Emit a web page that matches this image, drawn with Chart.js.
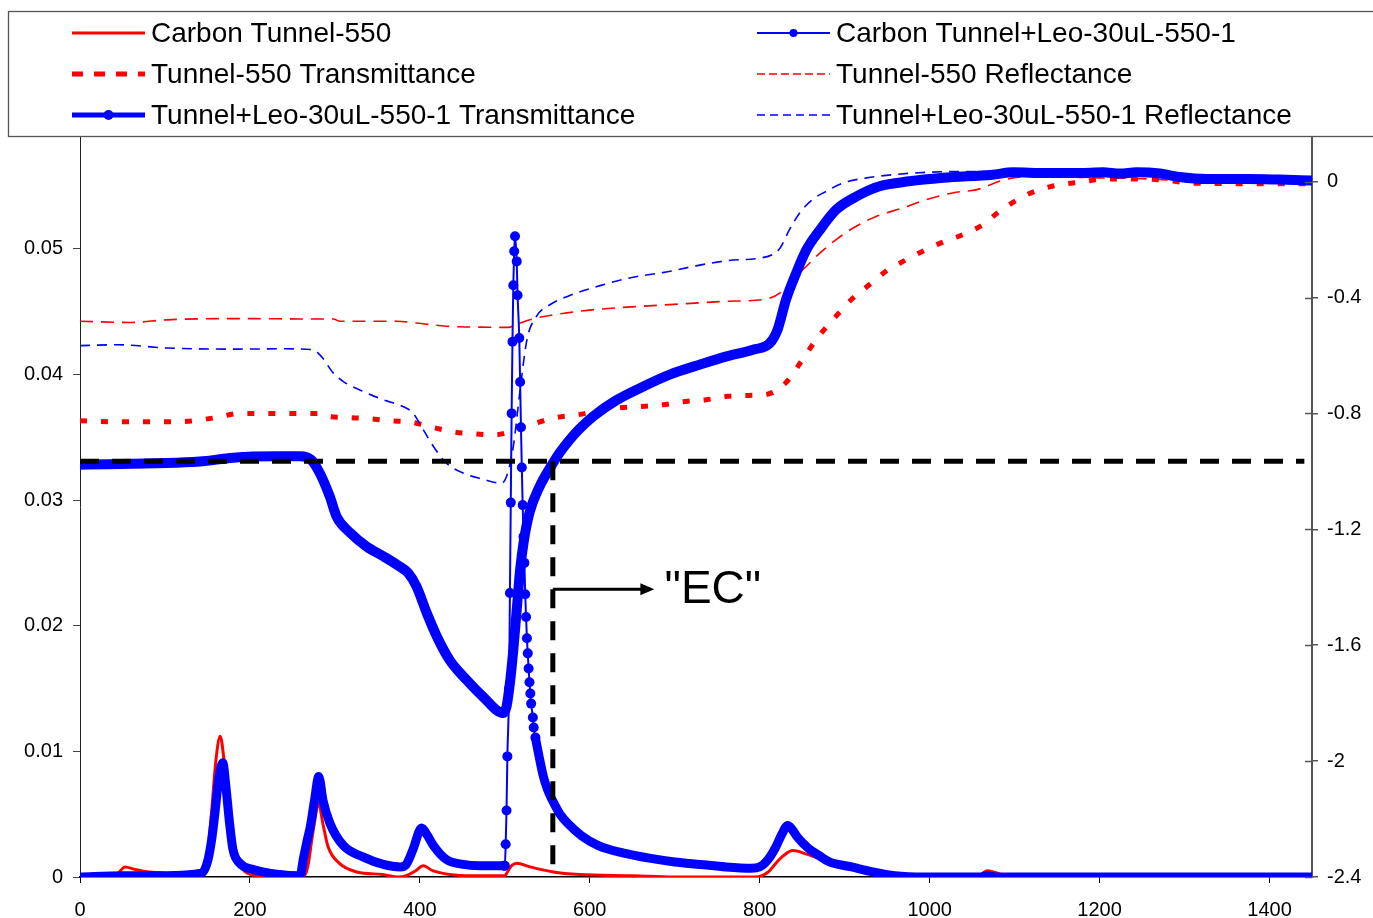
<!DOCTYPE html>
<html>
<head>
<meta charset="utf-8">
<script src="https://cdn.jsdelivr.net/npm/chart.js@4.4.1/dist/chart.umd.min.js"></script>
<style>
  html, body { margin: 0; padding: 0; background: #fff; }
  #wrap { width: 1373px; height: 918px; }
</style>
</head>
<body>
<div id="wrap"><canvas id="chart" width="1373" height="918"></canvas></div>
<script>
// axis ticks
const xTicks = [0, 200, 400, 600, 800, 1000, 1200, 1400];
const leftTicks = [0, 0.01, 0.02, 0.03, 0.04, 0.05];
const rightTicks = [-2.4, -2, -1.6, -1.2, -0.8, -0.4, 0];

const seriesNames = [
  'Carbon Tunnel-550',
  'Carbon Tunnel+Leo-30uL-550-1',
  'Tunnel-550 Transmittance',
  'Tunnel-550 Reflectance',
  'Tunnel+Leo-30uL-550-1 Transmittance',
  'Tunnel+Leo-30uL-550-1 Reflectance'
];

// Carbon Tunnel-550 (left axis)
const carbonX = [0, 40, 53, 65, 80, 100, 115, 130, 143, 150, 155, 160, 165, 170, 175, 180, 185, 195, 210, 230, 262, 268, 274, 281, 286, 292, 305, 326, 356, 375, 384, 395, 404, 415, 435, 460, 500, 503, 508, 514, 530, 557, 588, 650, 700, 795, 810, 819, 828, 839, 856, 882, 908, 933, 974, 1000, 1055, 1068, 1090, 1150, 1450];
const carbonY = [0, 0, 0.0008, 0.0006, 0.0004, 0.0003, 0.0001, 0, 0.0003, 0.0018, 0.0053, 0.0093, 0.0112, 0.0090, 0.0055, 0.0027, 0.0013, 0.0004, 0.0001, 0, 0, 0.0008, 0.0035, 0.0058, 0.0042, 0.0024, 0.0011, 0.0004, 0.0002, 0, 0.0001, 0.0005, 0.0009, 0.0005, 0.0002, 0.0001, 0.0001, 0.0004, 0.0009, 0.0011, 0.0008, 0.0004, 0.0002, 0.0001, 0, 0, 0.0004, 0.0011, 0.0017, 0.0021, 0.0018, 0.0012, 0.0008, 0.0005, 0.0001, 0, 0, 0.0005, 0.0001, 0, 0];

// Carbon Tunnel+Leo-30uL-550-1 (left axis)
const leoCarbonX = [0, 50, 100, 143, 150, 155, 159, 163, 168, 172, 176, 180, 188, 204, 235, 259, 263, 267, 271, 276, 281, 286, 294, 310, 333, 357, 377, 384, 392, 402, 409, 416, 431, 451, 470, 490, 499,
  500, 501, 502, 503, 505, 506, 507, 508, 509, 510, 511, 512, 514, 515, 517, 518, 519, 520, 521, 522, 523, 524, 525, 526, 527, 528, 529, 530, 531, 533, 534, 536,
  540, 545, 550, 556, 565, 575, 590, 610, 640, 670, 700, 730, 760, 790, 800, 806, 813, 819, 826, 833, 838, 844, 857, 870, 882, 908, 933, 959, 994, 1060, 1068, 1080, 1450];
const leoCarbonY = [0, 0.0001, 0.0001, 0.0003, 0.0012, 0.0030, 0.0052, 0.0077, 0.0091, 0.0070, 0.0043, 0.0022, 0.0011, 0.0006, 0.0002, 0.0001, 0.0015, 0.0028, 0.0040, 0.0061, 0.0080, 0.0061, 0.0043, 0.0025, 0.0016, 0.0010, 0.0008, 0.0010, 0.0022, 0.0039, 0.0033, 0.0025, 0.0014, 0.0010, 0.0009, 0.0009, 0.0009,
  0.0009, 0.0026, 0.0053, 0.0096, 0.0150, 0.0226, 0.0298, 0.0369, 0.0426, 0.0471, 0.0498, 0.0510, 0.0490, 0.0463, 0.0429, 0.0394, 0.0358, 0.0326, 0.0296, 0.0271, 0.0250, 0.0225, 0.0207, 0.0190, 0.0178, 0.0166, 0.0155, 0.0146, 0.0138, 0.0127, 0.0119, 0.0111,
  0.0097, 0.0081, 0.0070, 0.0061, 0.0050, 0.0042, 0.0033, 0.0025, 0.0019, 0.0015, 0.0012, 0.0010, 0.0008, 0.0007, 0.0008, 0.0011, 0.0017, 0.0024, 0.0034, 0.0041, 0.0038, 0.0032, 0.0023, 0.0017, 0.0012, 0.0008, 0.0004, 0.0001, 0, 0, 0.0001, 0, 0];

// Tunnel-550 Transmittance (right axis)
const tunnelTransX = [0, 47, 120, 159, 188, 235, 282, 288, 314, 339, 365, 391, 412, 438, 462, 488, 514, 538, 559, 585, 608, 633, 661, 686, 712, 737, 762, 786, 810, 831, 849, 868, 886, 908, 929, 951, 973, 994, 1018, 1039, 1063, 1082, 1108, 1129, 1155, 1180, 1204, 1229, 1255, 1280, 1306, 1382, 1450];
const tunnelTransY = [-0.825, -0.829, -0.828, -0.815, -0.800, -0.800, -0.800, -0.808, -0.814, -0.818, -0.825, -0.831, -0.846, -0.863, -0.870, -0.874, -0.856, -0.832, -0.815, -0.805, -0.793, -0.781, -0.776, -0.770, -0.759, -0.753, -0.741, -0.738, -0.733, -0.693, -0.620, -0.539, -0.477, -0.407, -0.356, -0.304, -0.269, -0.237, -0.206, -0.183, -0.148, -0.103, -0.055, -0.028, -0.010, -0.001, 0.009, 0.009, 0.009, 0.004, -0.005, -0.007, -0.007];

// Tunnel-550 Reflectance (right axis)
const tunnelReflX = [0, 59, 102, 161, 208, 259, 298, 306, 373, 396, 431, 467, 504, 518, 537, 573, 612, 662, 714, 761, 808, 824, 839, 855, 871, 890, 910, 937, 965, 996, 1027, 1059, 1082, 1098, 1126, 1150, 1200, 1250, 1300, 1350, 1450];
const tunnelReflY = [-0.482, -0.486, -0.477, -0.473, -0.473, -0.474, -0.474, -0.482, -0.482, -0.488, -0.499, -0.502, -0.503, -0.488, -0.471, -0.453, -0.440, -0.430, -0.421, -0.413, -0.405, -0.384, -0.338, -0.292, -0.246, -0.200, -0.160, -0.120, -0.094, -0.062, -0.039, -0.025, 0.001, 0.013, 0.018, 0.017, 0.013, 0.010, 0.003, -0.002, -0.003];

// Tunnel+Leo-30uL-550-1 Transmittance (right axis)
const leoTransX = [0, 141, 180, 231, 259, 272, 282, 294, 302, 318, 337, 357, 376, 386, 396, 408, 420, 435, 455, 474, 498, 502, 506, 510, 514, 518, 522, 529, 541, 557, 565, 576, 588, 604, 631, 663, 694, 729, 761, 792, 812, 821, 831, 843, 855, 871, 890, 914, 941, 976, 1016, 1074, 1098, 1137, 1176, 1204, 1224, 1243, 1271, 1294, 1326, 1373, 1412, 1449];
const leoTransY = [-0.977, -0.966, -0.953, -0.948, -0.948, -0.960, -1.005, -1.087, -1.156, -1.212, -1.259, -1.293, -1.328, -1.350, -1.397, -1.488, -1.570, -1.651, -1.720, -1.777, -1.834, -1.812, -1.730, -1.616, -1.478, -1.340, -1.247, -1.143, -1.052, -0.970, -0.934, -0.892, -0.853, -0.810, -0.755, -0.707, -0.666, -0.632, -0.603, -0.580, -0.557, -0.511, -0.407, -0.315, -0.235, -0.166, -0.097, -0.051, -0.016, 0.001, 0.013, 0.024, 0.032, 0.030, 0.030, 0.032, 0.028, 0.032, 0.028, 0.016, 0.009, 0.009, 0.007, 0.004];

// Tunnel+Leo-30uL-550-1 Reflectance (right axis)
const leoReflX = [0, 43, 102, 180, 239, 274, 284, 298, 310, 333, 357, 380, 392, 404, 416, 431, 451, 474, 496, 502, 510, 518, 526, 537, 553, 573, 612, 651, 690, 721, 761, 800, 815, 824, 835, 847, 862, 878, 898, 926, 957, 996, 1035, 1100, 1200, 1300, 1450];
const leoReflY = [-0.566, -0.563, -0.574, -0.578, -0.577, -0.580, -0.603, -0.660, -0.690, -0.724, -0.753, -0.776, -0.799, -0.856, -0.914, -0.971, -1.006, -1.027, -1.041, -1.018, -0.914, -0.718, -0.546, -0.466, -0.425, -0.397, -0.359, -0.330, -0.312, -0.293, -0.273, -0.264, -0.252, -0.229, -0.166, -0.108, -0.062, -0.034, -0.005, 0.013, 0.024, 0.032, 0.035, 0.035, 0.033, 0.022, 0.010];

// "EC" annotation (left-axis units)
const ecX = 556.5;
const ecLevel = 0.0331;
const ecLineEnd = 1441;
const ecArrowX = [556.5, 676];
const ecArrowY = 0.0229;
const ecLabel = '"EC"';
const ecLabelX = 688;

const RED = '#ff0000';
const BLUE = '#0000ff';
const FONT = '"Liberation Sans", Arial, Helvetica, sans-serif';

const pts = (xs, ys) => xs.map((x, i) => ({ x, y: ys[i] }));
// the Leo carbon trace is sampled finely only around the spike, where its markers show apart
const fineGap = 2.5;
const isFine = i => (i > 0 && leoCarbonX[i] - leoCarbonX[i - 1] <= fineGap) ||
  (i < leoCarbonX.length - 1 && leoCarbonX[i + 1] - leoCarbonX[i] <= fineGap);

Chart.defaults.font.family = FONT;
Chart.defaults.color = '#000';

const datasets = [
  { label: seriesNames[0], data: pts(carbonX, carbonY), yAxisID: 'y', borderColor: RED, borderWidth: 3,
    pointRadius: 0, cubicInterpolationMode: 'monotone', order: 3, lg: { w: 3 } },
  { label: seriesNames[1], data: pts(leoCarbonX, leoCarbonY), yAxisID: 'y', borderColor: BLUE, borderWidth: 9,
    borderCapStyle: 'round', borderJoinStyle: 'round',
    segment: { borderWidth: c => (leoCarbonX[c.p1DataIndex] - leoCarbonX[c.p0DataIndex] <= fineGap ? 2 : 9) },
    pointRadius: c => (isFine(c.dataIndex) ? 5 : 0), pointBackgroundColor: BLUE, pointBorderWidth: 0,
    cubicInterpolationMode: 'monotone', order: 1, lg: { w: 2, dot: 4 } },
  { label: seriesNames[2], data: pts(tunnelTransX, tunnelTransY), yAxisID: 'y1', borderColor: RED, borderWidth: 5,
    borderDash: [7, 14], pointRadius: 0, cubicInterpolationMode: 'monotone', order: 6, lg: { w: 5, dash: [11, 11] } },
  { label: seriesNames[3], data: pts(tunnelReflX, tunnelReflY), yAxisID: 'y1', borderColor: RED, borderWidth: 1.6,
    borderDash: [13, 8], pointRadius: 0, cubicInterpolationMode: 'monotone', order: 5, lg: { w: 1.6, dash: [8, 4] } },
  { label: seriesNames[4], data: pts(leoTransX, leoTransY), yAxisID: 'y1', borderColor: BLUE, borderWidth: 10,
    borderCapStyle: 'round', borderJoinStyle: 'round', pointRadius: 0, cubicInterpolationMode: 'monotone', order: 2,
    lg: { w: 5, dot: 5 } },
  { label: seriesNames[5], data: pts(leoReflX, leoReflY), yAxisID: 'y1', borderColor: BLUE, borderWidth: 1.6,
    borderDash: [10, 7], pointRadius: 0, cubicInterpolationMode: 'monotone', order: 4, lg: { w: 1.6, dash: [8, 5] } },
  { label: 'ec-h', data: [{ x: 0, y: ecLevel }, { x: ecLineEnd, y: ecLevel }], yAxisID: 'y', borderColor: '#000',
    borderWidth: 5, borderDash: [19, 13], pointRadius: 0, order: 0 },
  { label: 'ec-v', data: [{ x: ecX, y: ecLevel }, { x: ecX, y: 0 }], yAxisID: 'y', borderColor: '#000',
    borderWidth: 5, borderDash: [19, 13], pointRadius: 0, order: 0 }
];

// legend: two columns, three rows, inside a framed box
const legendItems = [[0, 0, 0], [1, 1, 0], [2, 0, 1], [3, 1, 1], [4, 0, 2], [5, 1, 2]];

const decor = {
  id: 'decor',
  afterDatasetsDraw(chart) {
    const { ctx, chartArea, scales: { x, y, y1 } } = chart;
    ctx.save();
    // right axis ticks also reach into the plot
    ctx.strokeStyle = '#555';
    ctx.lineWidth = 1.5;
    rightTicks.forEach(v => {
      const py = Math.round(y1.getPixelForValue(v)) + 0.5;
      ctx.beginPath();
      ctx.moveTo(chartArea.right - 7, py);
      ctx.lineTo(chartArea.right, py);
      ctx.stroke();
    });
    // arrow to the "EC" label
    const ax0 = x.getPixelForValue(ecArrowX[0]);
    const ax1 = x.getPixelForValue(ecArrowX[1]);
    const ay = y.getPixelForValue(ecArrowY);
    ctx.strokeStyle = '#000';
    ctx.fillStyle = '#000';
    ctx.lineWidth = 3;
    ctx.beginPath();
    ctx.moveTo(ax0, ay);
    ctx.lineTo(ax1 - 8, ay);
    ctx.stroke();
    ctx.beginPath();
    ctx.moveTo(ax1, ay);
    ctx.lineTo(ax1 - 14, ay - 6);
    ctx.lineTo(ax1 - 14, ay + 6);
    ctx.closePath();
    ctx.fill();
    ctx.font = '46px ' + FONT;
    ctx.textAlign = 'left';
    ctx.textBaseline = 'middle';
    ctx.fillText(ecLabel, x.getPixelForValue(ecLabelX), ay + 1);
    ctx.restore();
  },
  afterDraw(chart) {
    const { ctx } = chart;
    ctx.save();
    ctx.strokeStyle = '#555';
    ctx.lineWidth = 1.3;
    ctx.strokeRect(8.5, 11.5, 1400, 125);
    const colSample = [72, 757];
    const rowY = [33, 74, 115];
    ctx.font = '28px ' + FONT;
    ctx.textBaseline = 'middle';
    ctx.textAlign = 'left';
    legendItems.forEach(([di, col, row]) => {
      const ds = chart.data.datasets[di];
      const x0 = colSample[col], x1 = x0 + 73, yy = rowY[row];
      ctx.strokeStyle = ds.borderColor;
      ctx.lineWidth = ds.lg.w;
      ctx.setLineDash(ds.lg.dash || []);
      ctx.beginPath();
      ctx.moveTo(x0, yy);
      ctx.lineTo(x1, yy);
      ctx.stroke();
      ctx.setLineDash([]);
      if (ds.lg.dot) {
        ctx.fillStyle = ds.borderColor;
        ctx.beginPath();
        ctx.arc((x0 + x1) / 2, yy, ds.lg.dot, 0, Math.PI * 2);
        ctx.fill();
      }
      ctx.fillStyle = '#000';
      ctx.fillText(ds.label, x1 + 6, yy + 1);
    });
    ctx.restore();
  }
};

const tickFont = { size: 20, family: FONT };

new Chart(document.getElementById('chart'), {
  type: 'line',
  data: { datasets },
  options: {
    responsive: false,
    animation: false,
    layout: { padding: { top: 137, left: 0, right: 0, bottom: 0 } },
    plugins: { legend: { display: false }, tooltip: { enabled: false } },
    scales: {
      x: {
        type: 'linear', min: 0, max: 1450,
        afterBuildTicks: s => { s.ticks = xTicks.map(v => ({ value: v })); },
        afterFit: s => { s.height = 41; },
        ticks: { font: tickFont, color: '#000', padding: 15, maxRotation: 0, autoSkip: false, callback: v => String(v) },
        grid: { drawOnChartArea: false, tickLength: 6, color: '#000', lineWidth: 1 },
        border: { color: '#000', width: 1.5 }
      },
      y: {
        type: 'linear', position: 'left', min: 0, max: 0.0589,
        afterBuildTicks: s => { s.ticks = leftTicks.map(v => ({ value: v })); },
        afterFit: s => { s.width = 80; },
        ticks: { font: tickFont, color: '#000', padding: 10, callback: v => String(+v.toFixed(2)) },
        grid: { drawOnChartArea: false, tickLength: 7, color: '#444', lineWidth: 1 },
        border: { color: '#222', width: 1 }
      },
      y1: {
        type: 'linear', position: 'right', min: -2.4, max: 0.154,
        afterBuildTicks: s => { s.ticks = rightTicks.map(v => ({ value: v })); },
        afterFit: s => { s.width = 61; },
        ticks: { font: tickFont, color: '#000', padding: 9, callback: v => String(+v.toFixed(1)) },
        grid: { drawOnChartArea: false, tickLength: 6, color: '#555', lineWidth: 1.5 },
        border: { color: '#555', width: 2 }
      }
    }
  },
  plugins: [decor]
});
</script>
</body>
</html>
